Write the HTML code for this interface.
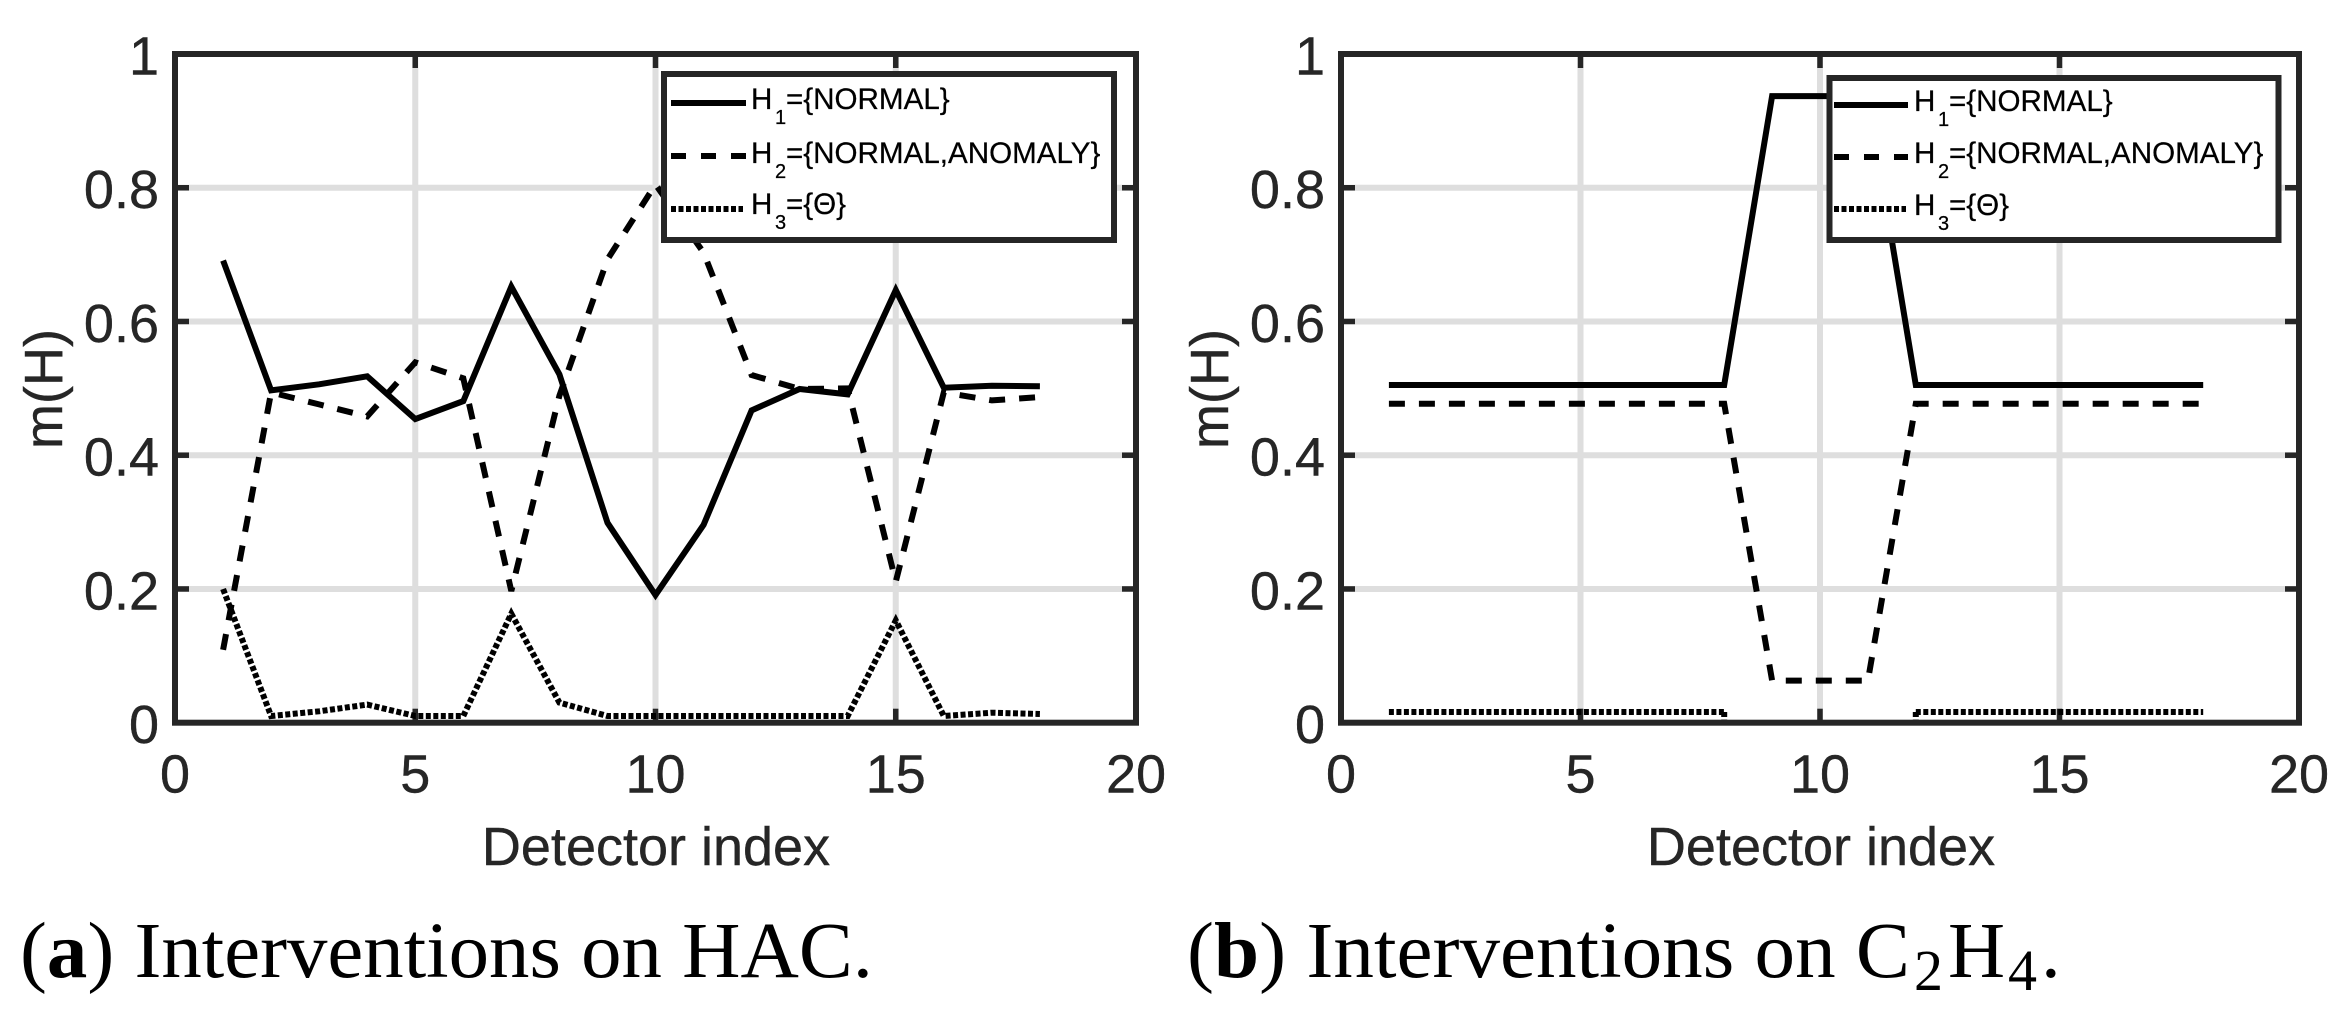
<!DOCTYPE html>
<html lang="en">
<head>
<meta charset="utf-8">
<title>Detector index versus m(H)</title>
<style>
html,body{margin:0;padding:0;background:#fff;width:2351px;height:1018px;overflow:hidden}
svg{display:block}
.tick-text,.axis-title{font-family:"Liberation Sans",Arial,sans-serif;font-size:54px;fill:#262626;stroke:#262626;stroke-width:.4px}
.legend-text{font-family:"Liberation Sans",Arial,sans-serif;font-size:29.6px;fill:#000;stroke:#000;stroke-width:.25px}
.caption{font-family:"Liberation Serif","Times New Roman",serif;font-size:79px;fill:#000}
</style>
</head>
<body>
<svg id="figure" xmlns="http://www.w3.org/2000/svg" width="2351" height="1018" viewBox="0 0 2351 1018">
  <rect x="0" y="0" width="2351" height="1018" fill="#fff"/>

  <g>
    <g id="a-plot"></g>
    <text class="axis-title" x="656" y="865" text-anchor="middle">Detector index</text>
    <text class="axis-title" transform="translate(62,389) rotate(-90)" text-anchor="middle">m(H)</text>
    <g>
      <rect x="664" y="74" width="450" height="166" fill="#fff" stroke="#262626" stroke-width="6"/>
      <line x1="671" y1="103" x2="746" y2="103" stroke="#000" stroke-width="6"/>
      <line x1="671" y1="156" x2="746" y2="156" stroke="#000" stroke-width="6" stroke-dasharray="15 15"/>
      <line x1="671" y1="209" x2="743" y2="209" stroke="#000" stroke-width="6" stroke-dasharray="5 2.5"/>
      <text class="legend-text" x="751" y="109">H<tspan x="775" dy="15" font-size="20">1</tspan><tspan x="786" dy="-15">={NORMAL}</tspan></text>
      <text class="legend-text" x="751" y="163">H<tspan x="775" dy="15" font-size="20">2</tspan><tspan x="786" dy="-15">={NORMAL,ANOMALY}</tspan></text>
      <text class="legend-text" x="751" y="214">H<tspan x="775" dy="15" font-size="20">3</tspan><tspan x="786" dy="-15">={Θ}</tspan></text>
    </g>
    <text class="caption" x="20" y="977" textLength="853" lengthAdjust="spacingAndGlyphs">(<tspan font-weight="bold">a</tspan>) Interventions on HAC.</text>
  </g>

  <g>
    <g id="b-plot"></g>
    <text class="axis-title" x="1821" y="865" text-anchor="middle">Detector index</text>
    <text class="axis-title" transform="translate(1228,389) rotate(-90)" text-anchor="middle">m(H)</text>
    <g>
      <rect x="1829.5" y="78" width="449" height="162" fill="#fff" stroke="#262626" stroke-width="6"/>
      <line x1="1834" y1="105" x2="1908" y2="105" stroke="#000" stroke-width="6"/>
      <line x1="1834" y1="157" x2="1908" y2="157" stroke="#000" stroke-width="6" stroke-dasharray="15 15"/>
      <line x1="1834" y1="209" x2="1906" y2="209" stroke="#000" stroke-width="6" stroke-dasharray="5 2.5"/>
      <text class="legend-text" x="1914" y="111">H<tspan x="1938" dy="15" font-size="20">1</tspan><tspan x="1949" dy="-15">={NORMAL}</tspan></text>
      <text class="legend-text" x="1914" y="163">H<tspan x="1938" dy="15" font-size="20">2</tspan><tspan x="1949" dy="-15">={NORMAL,ANOMALY}</tspan></text>
      <text class="legend-text" x="1914" y="215">H<tspan x="1938" dy="15" font-size="20">3</tspan><tspan x="1949" dy="-15">={Θ}</tspan></text>
    </g>
    <text class="caption" x="1187" y="977" textLength="723" lengthAdjust="spacingAndGlyphs">(<tspan font-weight="bold">b</tspan>) Interventions on C</text>
    <text class="caption" x="1914" y="990" style="font-size:58px">2</text>
    <text class="caption" x="1948" y="977">H</text>
    <text class="caption" x="2008" y="990" style="font-size:58px">4</text>
    <text class="caption" x="2041" y="977">.</text>
  </g>
</svg>

<script>
// Chart data
const detectors = [1,2,3,4,5,6,7,8,9,10,11,12,13,14,15,16,17,18];
const xTicks = [0,5,10,15,20];
const yTicks = [0,0.2,0.4,0.6,0.8,1];
const xTickLabels = ['0','5','10','15','20'];
const yTickLabels = ['0','0.2','0.4','0.6','0.8','1'];

const hacH1 = [0.691,0.497,0.506,0.518,0.454,0.481,0.652,0.521,0.299,0.191,0.296,0.467,0.499,0.491,0.647,0.501,0.504,0.503];
const hacH2 = [0.109,0.494,0.476,0.458,0.539,0.515,0.197,0.489,0.693,0.805,0.703,0.520,0.499,0.500,0.211,0.494,0.482,0.487];
const hacH3 = [0.200,0.010,0.017,0.027,0.010,0.010,0.163,0.030,0.010,0.010,0.010,0.010,0.010,0.010,0.153,0.010,0.015,0.013];

const c2h4H1 = [0.505,0.505,0.505,0.505,0.505,0.505,0.505,0.505,0.937,0.937,0.937,0.505,0.505,0.505,0.505,0.505,0.505,0.505];
const c2h4H2 = [0.477,0.477,0.477,0.477,0.477,0.477,0.477,0.477,0.063,0.063,0.063,0.477,0.477,0.477,0.477,0.477,0.477,0.477];
const c2h4H3 = [0.016,0.016,0.016,0.016,0.016,0.016,0.016,0.016,null,null,null,0.016,0.016,0.016,0.016,0.016,0.016,0.016];
// Detectors where the H3 trace of panel b drops out towards the axis
const c2h4H3Drops = [8,12];

const SVGNS = 'http://www.w3.org/2000/svg';
const INK = '#262626';
const GRID = '#dedede';
const DASH_SOLID = 'none';
const DASH_DASHED = '16 14';
const DASH_DOTTED = '5 2.5';

function make(tag, attrs, parent) {
  const node = document.createElementNS(SVGNS, tag);
  for (const key in attrs) node.setAttribute(key, attrs[key]);
  parent.appendChild(node);
  return node;
}

function drawPanel(prefix, box, seriesList, drops) {
  const root = document.getElementById(prefix + '-plot');
  const xScale = v => box.left + (v / 20) * (box.right - box.left);
  const yScale = v => box.bottom - v * (box.bottom - box.top);

  xTicks.forEach(t => {
    if (t > 0 && t < 20) {
      const grid = make('line', {x1: xScale(t), x2: xScale(t), y1: box.top, y2: box.bottom, stroke: GRID, 'stroke-width': 6}, root);
      
      
    }
  });
  yTicks.forEach(t => {
    if (t > 0 && t < 1) {
      const grid = make('line', {x1: box.left, x2: box.right, y1: yScale(t), y2: yScale(t), stroke: GRID, 'stroke-width': 6}, root);
      
      
    }
  });

  xTicks.forEach((t, i) => {
    if (t > 0 && t < 20) {
      [[box.bottom, box.bottom - 14], [box.top, box.top + 14]].forEach(p => {
        const tick = make('line', {x1: xScale(t), x2: xScale(t), y1: p[0], y2: p[1], stroke: INK, 'stroke-width': 5.5}, root);
        
        
      });
    }
    const label = make('text', {class: 'tick-text', x: xScale(t), y: box.bottom + 70, 'text-anchor': 'middle'}, root);
    label.textContent = xTickLabels[i];
    
    
  });
  yTicks.forEach((t, i) => {
    if (t > 0 && t < 1) {
      [[box.left, box.left + 14], [box.right, box.right - 14]].forEach(p => {
        const tick = make('line', {x1: p[0], x2: p[1], y1: yScale(t), y2: yScale(t), stroke: INK, 'stroke-width': 5.5}, root);
        
        
      });
    }
    const label = make('text', {class: 'tick-text', x: box.left - 16, y: yScale(t) + 20.5, 'text-anchor': 'end'}, root);
    label.textContent = yTickLabels[i];
    
    
  });

  seriesList.forEach(series => {
    let d = '';
    let pen = false;
    series.values.forEach((v, i) => {
      if (v === null) { pen = false; return; }
      d += (pen ? 'L' : 'M') + xScale(detectors[i]).toFixed(1) + ' ' + yScale(v).toFixed(1);
      pen = true;
    });
    const line = make('path', {d: d, fill: 'none', stroke: '#000', 'stroke-width': 6, 'stroke-linejoin': 'miter', 'stroke-dasharray': series.dash}, root);
    
    
  });

  drops.forEach(d => {
    const stub = make('line', {x1: xScale(d), x2: xScale(d), y1: yScale(0.016), y2: yScale(0), stroke: '#000', 'stroke-width': 6, 'stroke-dasharray': DASH_DOTTED}, root);
    
    
  });

  const frame = make('rect', {x: box.left, y: box.top, width: box.right - box.left, height: box.bottom - box.top, fill: 'none', stroke: INK, 'stroke-width': 6}, root);
  
  
}

drawPanel('a', {left: 175, right: 1136, top: 54, bottom: 722.7}, [
  {name: 'h1', values: hacH1, dash: DASH_SOLID},
  {name: 'h2', values: hacH2, dash: DASH_DASHED},
  {name: 'h3', values: hacH3, dash: DASH_DOTTED}
], []);

drawPanel('b', {left: 1341, right: 2299, top: 54, bottom: 722.7}, [
  {name: 'h1', values: c2h4H1, dash: DASH_SOLID},
  {name: 'h2', values: c2h4H2, dash: DASH_DASHED},
  {name: 'h3', values: c2h4H3, dash: DASH_DOTTED}
], c2h4H3Drops);
</script>
</body>
</html>
